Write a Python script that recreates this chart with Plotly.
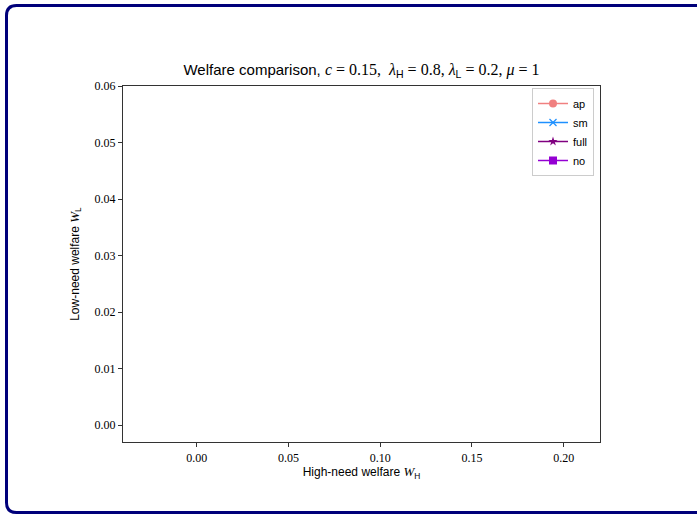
import plotly.graph_objects as go

# Data (the reference shows no visible points; series are empty)
series_names = ["ap", "sm", "full", "no"]
series_colors = ["#f08080", "#1e90ff", "#800080", "#9400d3"]
series_symbols = ["circle", "x-thin", "star", "square"]
ap_WH, ap_WL = [None], [None]
sm_WH, sm_WL = [None], [None]
full_WH, full_WL = [None], [None]
no_WH, no_WL = [None], [None]
x_ticks = [0.00, 0.05, 0.10, 0.15, 0.20]
y_ticks = [0.00, 0.01, 0.02, 0.03, 0.04, 0.05, 0.06]

W, H = 697, 516
L, R, T, B = 123, 97, 86, 74
PW, PH = W - L - R, H - T - B

def xp(px):
    return (px - L) / PW

def yp(py):
    return (H - B - py) / PH

fig = go.Figure()
data = [(ap_WH, ap_WL), (sm_WH, sm_WL), (full_WH, full_WL), (no_WH, no_WL)]
sizes = [8, 7, 7, 8]
for (xs, ys), name, col, sym, sz in zip(data, series_names, series_colors, series_symbols, sizes):
    fig.add_trace(go.Scatter(
        x=xs, y=ys, name=name, mode="lines+markers",
        line=dict(color=col, width=1.5),
        marker=dict(color=col, symbol=sym, size=sz,
                    line=dict(color=col, width=1.2 if sym == "x-thin" else 0)),
    ))

serif = "Liberation Serif"
sans = "Liberation Sans"

def s(t):
    return f'<span style="font-family:{serif};font-size:16px">{t}</span>'

title = ("Welfare comparison, " + s("<i>c</i> = 0.15,  <i>λ</i>") + "<sub>H</sub>"
         + s(" = 0.8, <i>λ</i>") + "<sub>L</sub>" + s(" = 0.2, <i>μ</i> = 1"))

# rounded frame border
x0, y0, x1, y1, r = 6.5, 5.5, 706, 512.5, 10
path = (f"M {xp(x0+r)},{yp(y0)} L {xp(x1-r)},{yp(y0)} Q {xp(x1)},{yp(y0)} {xp(x1)},{yp(y0+r)} "
        f"L {xp(x1)},{yp(y1-r)} Q {xp(x1)},{yp(y1)} {xp(x1-r)},{yp(y1)} "
        f"L {xp(x0+r)},{yp(y1)} Q {xp(x0)},{yp(y1)} {xp(x0)},{yp(y1-r)} "
        f"L {xp(x0)},{yp(y0+r)} Q {xp(x0)},{yp(y0)} {xp(x0+r)},{yp(y0)} Z")

def ax_title(text, sub):
    return (text + f'<span style="font-family:{serif};font-size:13px"><i>W</i></span>'
            + f"<sub>{sub}</sub>")

fig.update_layout(
    width=W, height=H,
    margin=dict(l=L, r=R, t=T, b=B),
    paper_bgcolor="white", plot_bgcolor="white",
    font=dict(family=sans, size=11, color="black"),
    title=dict(text=title, x=(L + PW / 2) / W, xanchor="center",
               y=1 - 70 / H, yanchor="middle", font=dict(size=15, family=sans)),
    showlegend=True,
    legend=dict(x=xp(594), y=yp(88), xanchor="right", yanchor="top",
                bordercolor="#cccccc", borderwidth=1, bgcolor="white",
                font=dict(size=11, family=sans), itemwidth=30,
                tracegroupgap=0),
    xaxis=dict(range=[-0.0402, 0.2198], tickvals=x_ticks,
               ticktext=[f"{v:.2f}" for v in x_ticks],
               showline=True, mirror=True, linecolor="#333", linewidth=1.2,
               ticks="outside", ticklen=4, tickcolor="#333", showgrid=False, zeroline=False,
               tickfont=dict(family=serif, size=12),
               title=dict(text=ax_title("High-need welfare ", "H"),
                          font=dict(size=12, family=sans), standoff=4)),
    yaxis=dict(range=[-0.003, 0.06], tickvals=y_ticks,
               ticktext=[f"{v:.2f}" for v in y_ticks],
               showline=True, mirror=True, linecolor="#333", linewidth=1.2,
               ticks="outside", ticklen=4, tickcolor="#333", showgrid=False, zeroline=False,
               tickfont=dict(family=serif, size=12),
               title=dict(text=ax_title("Low-need welfare ", "L"),
                          font=dict(size=12, family=sans), standoff=12)),
    shapes=[dict(type="path", xref="paper", yref="paper", path=path,
                 line=dict(color="#00007a", width=3), layer="above")],
)

fig.write_html("out.html", config={"displayModeBar": False},
               post_script="document.body.style.margin='0';document.body.style.overflow='hidden';")
